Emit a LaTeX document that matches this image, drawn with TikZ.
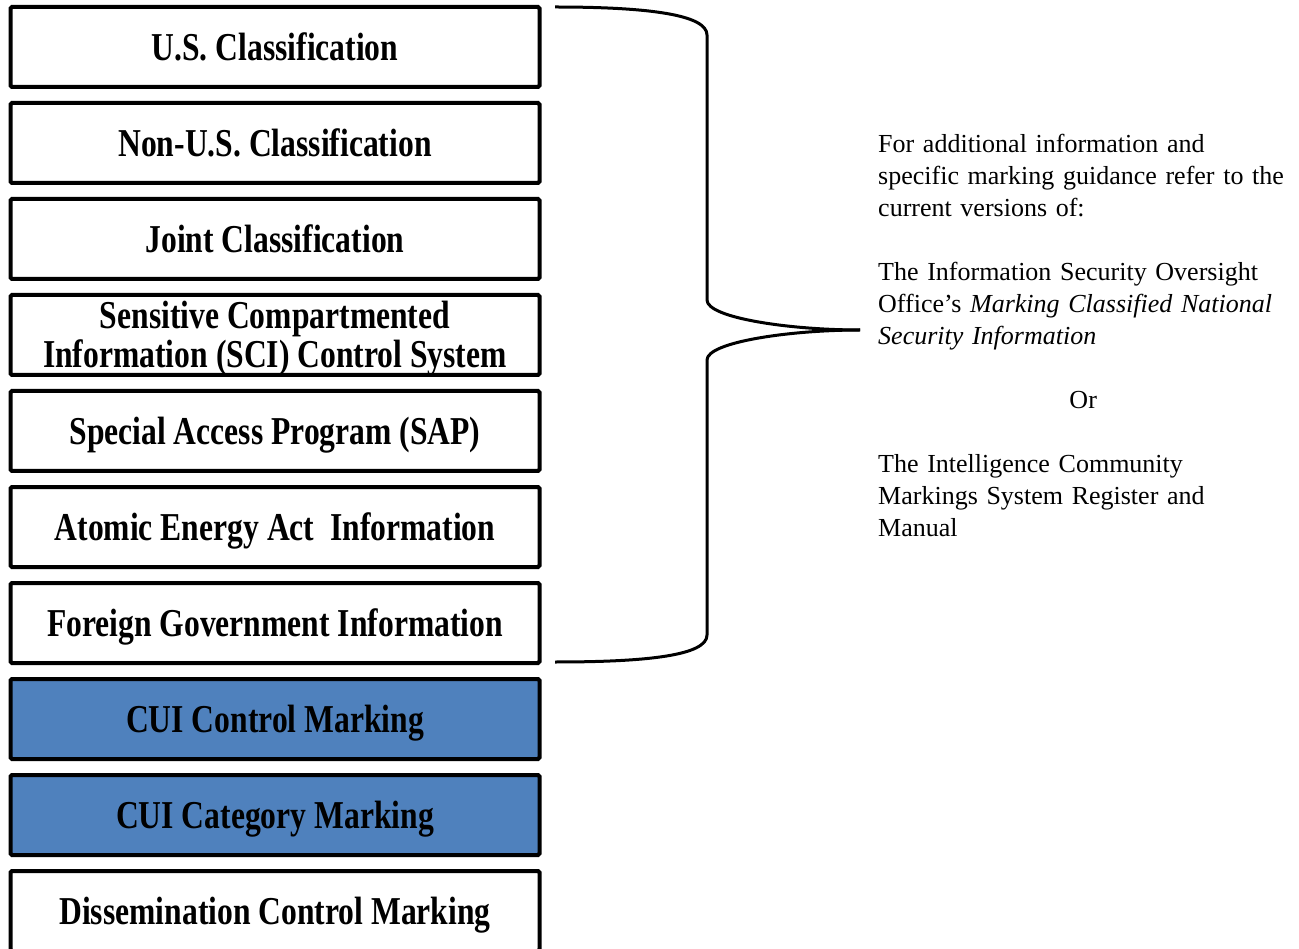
\documentclass[tikz,border=0pt]{standalone}
\usepackage{fontspec}
\setmainfont{Liberation Serif}
\newfontfamily\boxfont{Liberation Serif}[FakeStretch=0.8]
\usepackage{tikz}
\definecolor{cuiblue}{RGB}{79,129,189}

\begin{document}
\begin{tikzpicture}[x=1pt,y=-1pt,
	mbox/.style={draw,line width=4pt,rounded corners=1.5pt,minimum width=529pt,minimum height=80pt,inner sep=0pt,text height=27pt,text depth=0pt,align=center,font=\boxfont\bfseries\fontsize{39.5}{39}\selectfont}]
		\useasboundingbox (0,0) rectangle (1299,949);
		\foreach \i/\t/\c in {1/{U.S. Classification}/white,2/{Non-U.S. Classification}/white,3/{Joint Classification}/white,5/{Special Access Program (SAP)}/white,6/{Atomic Energy Act\ \ Information}/white,7/{Foreign Government Information}/white,8/{CUI Control Marking}/cuiblue,9/{CUI Category Marking}/cuiblue,10/{Dissemination Control Marking}/white}{
		\node[mbox,fill=\c] (b\i) at (275,{47+96*(\i-1)}) {\t};
		}
		\node[mbox,fill=white,text height=66pt] (b4) at (275,335) {Sensitive Compartmented\\Information (SCI) Control System};
		\coordinate (tip) at (860,330);
		\draw[line width=3pt] (555,7) .. controls (650,7) and (707,15) .. (707,35) -- (707,300) .. controls (707,318) and (790,330) .. (tip);
		\draw[line width=3pt] (tip) .. controls (790,330) and (707,342) .. (707,360) -- (707,635) .. controls (707,655) and (650,662) .. (555,662);
		\node[anchor=north west,text width=430pt,inner sep=0pt,align=left,font=\fontsize{26}{32}\selectfont] (note) at (878,133.5) {For additional information and\\specific marking guidance refer to the\\current versions of:\\[32pt]The Information Security Oversight\\Office's \textit{Marking Classified National}\\\textit{Security Information}\\[32pt]\makebox[410pt]{Or}\\[32pt]The Intelligence Community\\Markings System Register and\\Manual};
\end{tikzpicture}
\end{document}
